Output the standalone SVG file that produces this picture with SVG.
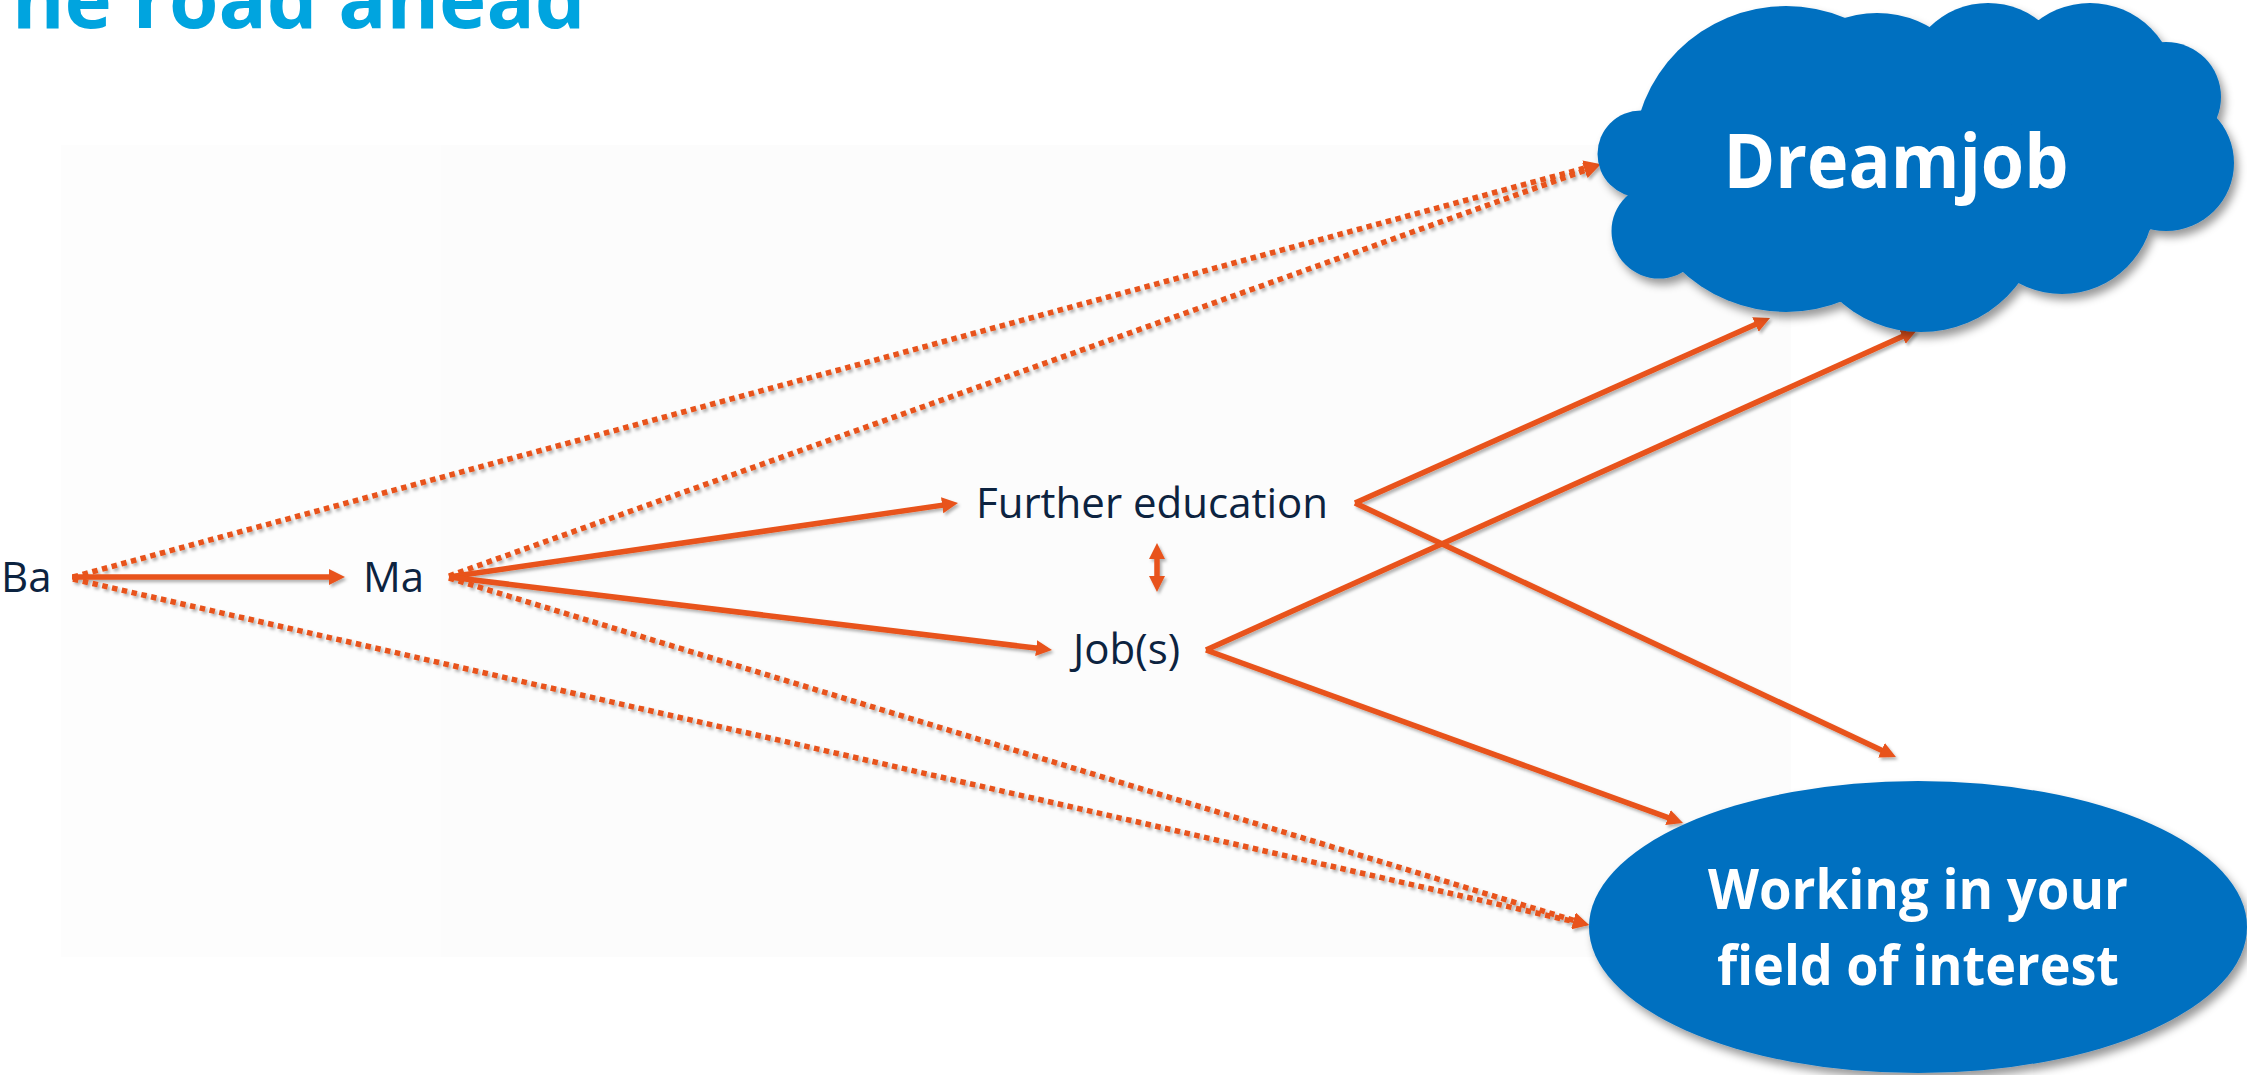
<svg xmlns="http://www.w3.org/2000/svg" width="2247" height="1075" viewBox="0 0 2247 1075">
<style>
.lbl{font-family:"Open Sans","Liberation Sans",sans-serif;font-size:42px;fill:#0C2340}
.big{font-family:"Open Sans","Liberation Sans",sans-serif;font-weight:bold;fill:#FFFFFF;text-anchor:middle}
.solid{stroke:#E8531A;stroke-width:5.5;fill:none;marker-end:url(#ah)}
.dot{stroke:#E8531A;stroke-width:5.5;fill:none;stroke-dasharray:5.5 4.5;marker-end:url(#ah)}
.blue{fill:#0070C0}
</style>
<defs>
<marker id="ah" markerUnits="userSpaceOnUse" markerWidth="18" markerHeight="18" refX="6" refY="8" orient="auto-start-reverse" viewBox="0 0 18 18">
<path d="M0,0 L16,8 L0,16 Z" fill="#E8531A"/>
</marker>
<filter id="lsh" x="-5%" y="-5%" width="110%" height="110%">
<feDropShadow dx="2" dy="2.5" stdDeviation="1.5" flood-color="#000" flood-opacity="0.3"/>
</filter>
<filter id="bsh" x="-10%" y="-10%" width="120%" height="125%">
<feDropShadow dx="4" dy="6" stdDeviation="4" flood-color="#000" flood-opacity="0.4"/>
</filter>
</defs>
<rect x="0" y="0" width="2247" height="1075" fill="#FFFFFF"/>
<rect x="61" y="145" width="380" height="812" fill="#FDFDFD"/>
<rect x="441" y="145" width="1350" height="812" fill="#FCFCFC"/>
<text x="12" y="28" font-family="Open Sans, Liberation Sans, sans-serif" font-weight="bold" font-size="80" fill="#00A4DF">he road ahead</text>
<g id="connectors" filter="url(#lsh)">
<line class="dot" x1="73" y1="577" x2="1590.3" y2="166.6"/>
<line class="dot" x1="449" y1="576" x2="1590.6" y2="168.4"/>
<line class="dot" x1="73" y1="579" x2="1579.3" y2="922.8"/>
<line class="dot" x1="449" y1="578" x2="1579.4" y2="922.1"/>
<line class="solid" x1="72" y1="577" x2="335" y2="577" stroke-width="6.5"/>
<line class="solid" x1="449" y1="577" x2="948.1" y2="504.4"/>
<line class="solid" x1="449" y1="577" x2="1042.1" y2="648.8"/>
<line class="solid" x1="1355" y1="503" x2="1760.9" y2="322.1"/>
<line class="solid" x1="1355" y1="503" x2="1886.9" y2="752.8"/>
<line class="solid" x1="1206" y1="650" x2="1907.9" y2="334.1"/>
<line class="solid" x1="1206" y1="650" x2="1673.6" y2="819.6"/>
<line class="solid" x1="1157" y1="553" x2="1157" y2="582" style="marker-start:url(#ah)"/>
</g>
<g id="ba"><text class="lbl" x="1" y="592">Ba</text></g>
<g id="ma"><text class="lbl" x="363" y="592">Ma</text></g>
<g id="further"><text class="lbl" x="976" y="518">Further education</text></g>
<g id="jobs"><text class="lbl" x="1073" y="664">Job(s)</text></g>
<g id="dreamjob">
<g class="blue" filter="url(#bsh)">
<polygon points="1654,112 1806,40 1930,27 2039,20 2163,43 2217,118 2150,230 2019,283 1841,302 1683,272 1628,195"/>
<circle cx="1759" cy="137" r="108"/>
<circle cx="1877" cy="119" r="106"/>
<circle cx="1988" cy="86" r="83"/>
<circle cx="2090" cy="89" r="86"/>
<circle cx="2166" cy="97" r="55"/>
<circle cx="2166" cy="163" r="68"/>
<circle cx="2062" cy="202" r="92"/>
<circle cx="1921" cy="210" r="122"/>
<circle cx="1786" cy="159" r="153"/>
<circle cx="1659" cy="231" r="47.5"/>
<circle cx="1641" cy="154" r="43.5"/>
</g>
<text class="big" x="1896" y="188" font-size="76" textLength="345" lengthAdjust="spacingAndGlyphs">Dreamjob</text>
</g>
<g id="working">
<ellipse class="blue" cx="1918" cy="927" rx="329" ry="146" filter="url(#bsh)"/>
<text class="big" x="1918" y="909" font-size="56" textLength="420" lengthAdjust="spacingAndGlyphs">Working in your</text>
<text class="big" x="1918" y="985" font-size="56" textLength="402" lengthAdjust="spacingAndGlyphs">field of interest</text>
</g>
</svg>
